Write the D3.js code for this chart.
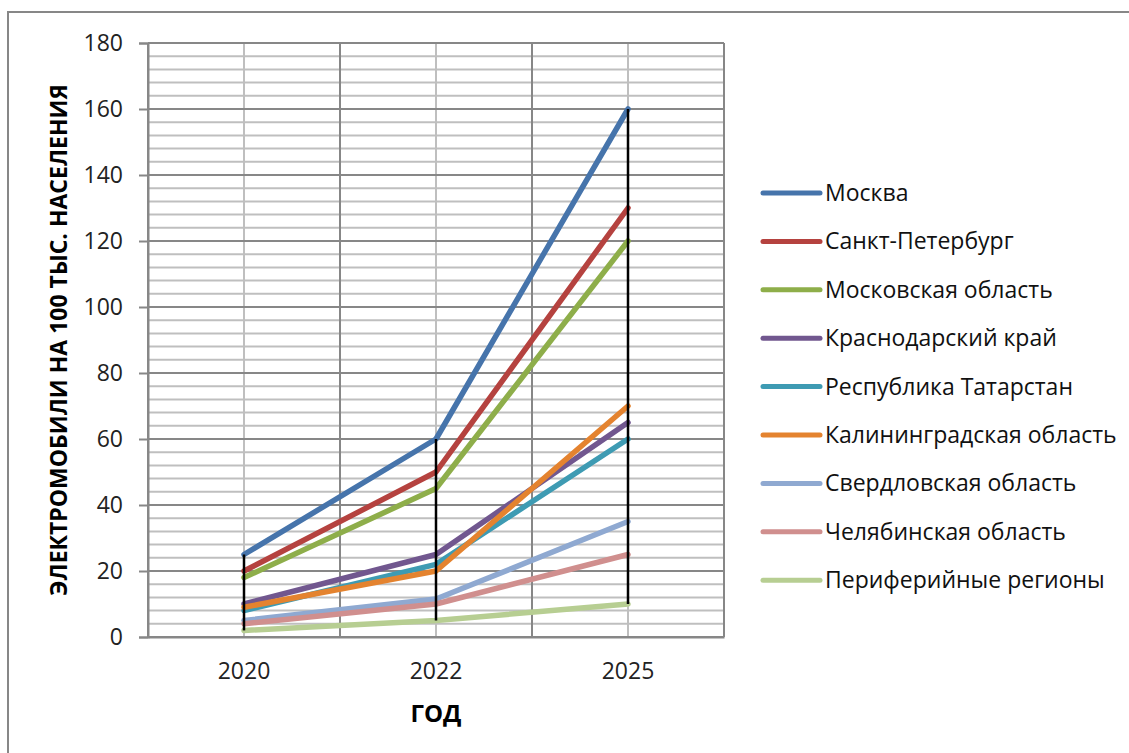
<!DOCTYPE html>
<html>
<head>
<meta charset="utf-8">
<script src="https://cdn.jsdelivr.net/npm/d3@7"></script>
<style>
  html, body { margin: 0; padding: 0; background: #fff; }
  svg { display: block; }
</style>
</head>
<body>
<svg id="chart" width="1129" height="753"></svg>
<script>
// ---- data ----
const years = ["2020", "2022", "2025"];
const seriesNames = [
  "Москва",
  "Санкт-Петербург",
  "Московская область",
  "Краснодарский край",
  "Республика Татарстан",
  "Калининградская область",
  "Свердловская область",
  "Челябинская область",
  "Периферийные регионы"
];
const moskva       = [25, 60, 160];
const spb          = [20, 50, 130];
const moskObl      = [18, 45, 120];
const krasnodar    = [10, 25, 65];
const tatarstan    = [8, 22, 60];
const kaliningrad  = [9, 20, 70];
const sverdlovsk   = [5, 11.5, 35];
const chelyabinsk  = [4, 10, 25];
const periphery    = [2, 5, 10];
const yTicks = [0, 20, 40, 60, 80, 100, 120, 140, 160, 180];
const yTitle = "ЭЛЕКТРОМОБИЛИ НА 100 ТЫС. НАСЕЛЕНИЯ";
const xTitle = "ГОД";

const seriesValues = [moskva, spb, moskObl, krasnodar, tatarstan, kaliningrad, sverdlovsk, chelyabinsk, periphery];
const colors = ["#4674AB", "#B5423F", "#8EAE4A", "#71578F", "#3E9BB3", "#E4832F", "#8FA9D1", "#D08F8E", "#B7CE92"];

const series = seriesNames.map((n, i) => ({ name: n, values: seriesValues[i], color: colors[i] }));

// ---- layout ----
const svg = d3.select("#chart");
const pL = 148, pR = 724, pT = 43, pB = 637;
const font = "'Open Sans', 'DejaVu Sans', sans-serif";

// outer frame
svg.append("rect").attr("x", 8).attr("y", 12).attr("width", 1140).attr("height", 760)
  .attr("fill", "#fff").attr("stroke", "#878787").attr("stroke-width", 2);

const x = d3.scaleBand().domain(years).range([pL, pR]).padding(0);
const y = d3.scaleLinear().domain([0, 180]).range([pB, pT]);
const cx = d => x(d) + x.bandwidth() / 2;

const g = svg.append("g");

// minor horizontal gridlines
const minor = d3.range(0, 181, 4).filter(v => v % 20 !== 0);
g.selectAll("line.hminor").data(minor).enter().append("line")
  .attr("x1", pL).attr("x2", pR)
  .attr("y1", d => y(d)).attr("y2", d => y(d))
  .attr("stroke", "#BFBFBF").attr("stroke-width", 2);

// minor vertical gridlines at category centers
g.selectAll("line.vminor").data(years).enter().append("line")
  .attr("x1", cx).attr("x2", cx)
  .attr("y1", pT).attr("y2", pB)
  .attr("stroke", "#BFBFBF").attr("stroke-width", 2);

// major horizontal gridlines
g.selectAll("line.hmajor").data(yTicks).enter().append("line")
  .attr("x1", pL).attr("x2", pR)
  .attr("y1", d => y(d)).attr("y2", d => y(d))
  .attr("stroke", "#878787").attr("stroke-width", 2);

// major vertical gridlines at category boundaries
const bounds = years.map(d => x(d)).concat([pR]);
g.selectAll("line.vmajor").data(bounds).enter().append("line")
  .attr("x1", d => d).attr("x2", d => d)
  .attr("y1", pT).attr("y2", pB)
  .attr("stroke", "#878787").attr("stroke-width", 2);

// y axis
const yAxis = d3.axisLeft(y).tickValues(yTicks).tickSize(9).tickPadding(16);
const ya = svg.append("g").attr("transform", `translate(${pL},0)`).call(yAxis);
ya.select(".domain").attr("stroke", "#878787").attr("stroke-width", 2);
ya.selectAll(".tick line").attr("stroke", "#878787").attr("stroke-width", 2);
ya.selectAll(".tick text").attr("font-family", font).attr("font-size", 23).attr("fill", "#222");

// x axis
const xAxis = d3.axisBottom(x).tickSize(0).tickPadding(26);
const xa = svg.append("g").attr("transform", `translate(0,${pB})`).call(xAxis);
xa.select(".domain").attr("stroke", "#878787").attr("stroke-width", 2);
xa.selectAll(".tick text").attr("font-family", font).attr("font-size", 23).attr("fill", "#222");

// series lines
const line = d3.line().x((d, i) => cx(years[i])).y(d => y(d));
svg.append("g").selectAll("path").data(series).enter().append("path")
  .attr("d", d => line(d.values))
  .attr("fill", "none").attr("stroke", d => d.color)
  .attr("stroke-width", 5.5).attr("stroke-linejoin", "round").attr("stroke-linecap", "round");

// high-low lines
svg.append("g").selectAll("line").data(years).enter().append("line")
  .attr("x1", cx).attr("x2", cx)
  .attr("y1", (d, i) => y(d3.max(series, s => s.values[i])))
  .attr("y2", (d, i) => y(d3.min(series, s => s.values[i])))
  .attr("stroke", "#000").attr("stroke-width", 2.5);

// axis titles
svg.append("text").attr("transform", `translate(67,${(pT + pB) / 2}) rotate(-90)`)
  .attr("text-anchor", "middle").attr("font-family", font).attr("font-weight", "bold")
  .attr("font-size", 23).attr("fill", "#000").text(yTitle);
svg.append("text").attr("x", (pL + pR) / 2).attr("y", 722)
  .attr("text-anchor", "middle").attr("font-family", font).attr("font-weight", "bold")
  .attr("font-size", 24).attr("fill", "#000").text(xTitle);

// legend
const lg = svg.append("g").attr("transform", "translate(763,193)");
const rows = lg.selectAll("g").data(series).enter().append("g")
  .attr("transform", (d, i) => `translate(0,${i * 48.4})`);
rows.append("line").attr("x1", 0).attr("x2", 57).attr("y1", 0).attr("y2", 0)
  .attr("stroke", d => d.color).attr("stroke-width", 5).attr("stroke-linecap", "round");
rows.append("text").attr("x", 62).attr("y", 0).attr("dy", "0.35em")
  .attr("font-family", font).attr("font-size", 23).attr("fill", "#111").text(d => d.name);
</script>
</body>
</html>
